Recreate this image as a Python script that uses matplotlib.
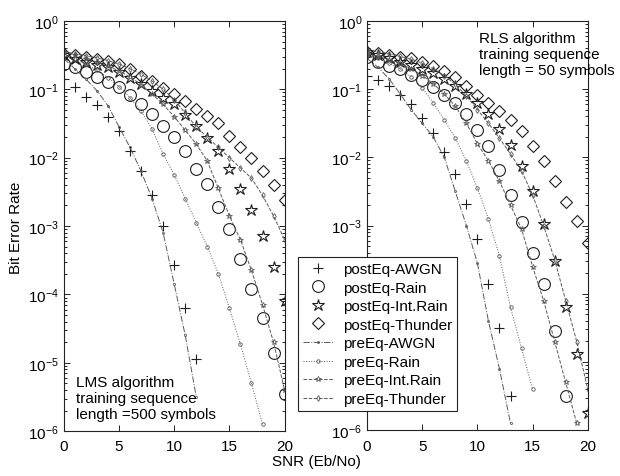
#!/usr/bin/env python3


# +
# import(s)
# -
import numpy as np
import matplotlib
matplotlib.use('Agg')
import matplotlib.pyplot as plt


# +
# constant(s)
# -
nan = np.nan
SNR = list(range(0, 21))
LABELS = ['postEq-AWGN', 'postEq-Rain', 'postEq-Int.Rain', 'postEq-Thunder',
          'preEq-AWGN', 'preEq-Rain', 'preEq-Int.Rain', 'preEq-Thunder']
DECADES = list(range(-6, 1))

# log10(BER)
lms_post_awgn = [-0.85, -0.97, -1.11, -1.23, -1.41, -1.61, -1.90, -2.20, -2.55, -3.00, -3.57, -4.20, -4.95,
                 nan, nan, nan, nan, nan, nan, nan, nan]
lms_post_rain = [-0.63, -0.68, -0.75, -0.82, -0.90, -0.97, -1.09, -1.21, -1.36, -1.53, -1.70, -1.90, -2.17,
                 -2.39, -2.72, -3.05, -3.48, -3.92, -4.35, -4.85, -5.45]
lms_post_intrain = [-0.50, -0.55, -0.60, -0.64, -0.68, -0.75, -0.83, -0.92, -1.02, -1.12, -1.22, -1.37, -1.53,
                    -1.71, -1.90, -2.17, -2.46, -2.77, -3.15, -3.60, -4.10]
lms_post_thunder = [-0.48, -0.50, -0.53, -0.56, -0.59, -0.63, -0.70, -0.80, -0.88, -0.98, -1.07, -1.17, -1.29,
                    -1.39, -1.50, -1.68, -1.85, -2.00, -2.20, -2.40, -2.62]
lms_pre_awgn = [-0.55, -0.70, -0.85, -1.02, -1.24, -1.55, -1.85, -2.20, -2.60, -3.10, -3.85, -4.60, -5.50,
                nan, nan, nan, nan, nan, nan, nan, nan]
lms_pre_rain = [-0.50, -0.56, -0.63, -0.72, -0.83, -0.96, -1.12, -1.32, -1.58, -1.95, -2.25, -2.60, -2.95,
                -3.30, -3.70, -4.20, -4.73, -5.30, -5.90, nan, nan]
lms_pre_intrain = [-0.45, -0.50, -0.55, -0.60, -0.66, -0.73, -0.82, -0.93, -1.07, -1.22, -1.40, -1.60, -1.80,
                   -2.05, -2.45, -2.85, -3.20, -3.65, -4.15, -4.70, -5.40]
lms_pre_thunder = [-0.45, -0.48, -0.51, -0.54, -0.58, -0.63, -0.70, -0.78, -0.88, -1.00, -1.15, -1.35, -1.55,
                   -1.70, -1.85, -2.00, -2.15, -2.30, -2.55, -2.85, -3.20]

# log10(BER)
rls_post_awgn = [-0.80, -0.86, -0.95, -1.08, -1.22, -1.42, -1.65, -1.92, -2.25, -2.68, -3.20, -3.85, -4.50,
                 -5.50, nan, nan, nan, nan, nan, nan, nan]
rls_post_rain = [-0.53, -0.60, -0.66, -0.71, -0.79, -0.87, -0.97, -1.08, -1.20, -1.36, -1.60, -1.83, -2.18,
                 -2.55, -2.95, -3.40, -3.85, -4.55, -5.50, nan, nan]
rls_post_intrain = [-0.45, -0.50, -0.55, -0.60, -0.65, -0.70, -0.76, -0.85, -0.95, -1.07, -1.20, -1.37, -1.58,
                    -1.82, -2.12, -2.50, -2.97, -3.52, -4.20, -4.88, -5.75]
rls_post_thunder = [-0.45, -0.47, -0.50, -0.53, -0.55, -0.60, -0.66, -0.73, -0.82, -0.95, -1.08, -1.20, -1.32,
                    -1.45, -1.62, -1.84, -2.05, -2.35, -2.65, -2.93, -3.25]
rls_pre_awgn = [-0.55, -0.68, -0.85, -1.07, -1.30, -1.50, -1.70, -2.00, -2.50, -3.00, -3.55, -4.40, -5.10,
                -5.90, nan, nan, nan, nan, nan, nan, nan]
rls_pre_rain = [-0.50, -0.55, -0.62, -0.70, -0.82, -0.98, -1.20, -1.45, -1.72, -2.05, -2.45, -2.90, -3.45,
                -4.20, -4.80, -5.40, nan, nan, nan, nan, nan]
rls_pre_intrain = [-0.48, -0.52, -0.57, -0.63, -0.70, -0.80, -0.92, -1.07, -1.25, -1.50, -1.80, -2.05, -2.35,
                   -2.70, -3.05, -3.60, -4.10, -4.70, -5.30, -5.90, nan]
rls_pre_thunder = [-0.42, -0.45, -0.48, -0.52, -0.56, -0.62, -0.70, -0.80, -0.93, -1.10, -1.30, -1.50, -1.72,
                   -1.95, -2.20, -2.55, -3.00, -3.50, -4.10, -4.70, -5.40]

POST_STYLE = [dict(marker='+', ms=7), dict(marker='o', ms=8.5), dict(marker='*', ms=9), dict(marker='D', ms=6.5)]
PRE_STYLE = [dict(marker='.', ms=3, ls='-.'), dict(marker='o', ms=2.5, ls=':'),
             dict(marker='*', ms=4, ls='--'), dict(marker='d', ms=3, ls='--')]
DARK = '#1e1e1e'
GREY = '#5a5a5a'


# +
# function: draw_panel()
# -
def draw_panel(_ax=None, _post=None, _pre=None, _hidden=()):
    _x = np.array(SNR, dtype=float)
    _handles = []
    for _y, _s in zip(_post, POST_STYLE):
        _h, = _ax.semilogy(_x, 10.0 ** np.array(_y), ls='none', color=DARK, mfc='none', mew=0.8, **_s)
        _handles.append(_h)
    for _y, _s in zip(_pre, PRE_STYLE):
        _h, = _ax.semilogy(_x, 10.0 ** np.array(_y), color=GREY, lw=0.7, mfc='none', mew=0.6, **_s)
        _handles.append(_h)
    _ax.set_xlim(0, 20)
    _ax.set_ylim(1e-6, 1)
    _ax.set_xticks([0, 5, 10, 15, 20])
    _ax.set_yticks([10.0 ** _k for _k in DECADES])
    # labels that sit behind the legend in the original are left blank
    _ax.set_yticklabels(['' if _k in _hidden else r'$\mathdefault{10^{%d}}$' % _k for _k in DECADES])
    _ax.tick_params(which='both', direction='in', top=True, right=True, labelsize=11, width=0.6)
    _ax.tick_params(which='major', length=4)
    _ax.tick_params(which='minor', length=2)
    _ax.tick_params(axis='x', pad=6)
    for _sp in _ax.spines.values():
        _sp.set_linewidth(0.8)
        _sp.set_color('#222222')
    return _handles


# +
# main()
# -
if __name__ == '__main__':

    plt.rcParams['font.family'] = ['Liberation Sans', 'DejaVu Sans']
    plt.rcParams['mathtext.fontset'] = 'custom'
    plt.rcParams['mathtext.rm'] = 'Liberation Sans'

    fig = plt.figure(figsize=(6.2, 4.77), dpi=100)
    ax1 = fig.add_axes([0.103, 0.094, 0.356, 0.860])
    ax2 = fig.add_axes([0.592, 0.096, 0.356, 0.858])

    handles = draw_panel(ax1, [lms_post_awgn, lms_post_rain, lms_post_intrain, lms_post_thunder],
                         [lms_pre_awgn, lms_pre_rain, lms_pre_intrain, lms_pre_thunder])
    draw_panel(ax2, [rls_post_awgn, rls_post_rain, rls_post_intrain, rls_post_thunder],
               [rls_pre_awgn, rls_pre_rain, rls_pre_intrain, rls_pre_thunder], _hidden=(-5, -4))

    ax1.text(0.054, 0.025, 'LMS algorithm\ntraining sequence\nlength =500 symbols',
             transform=ax1.transAxes, fontsize=11, va='bottom', ha='left', linespacing=1.18)
    ax2.text(0.507, 0.975, 'RLS algorithm\ntraining sequence\nlength = 50 symbols',
             transform=ax2.transAxes, fontsize=11, va='top', ha='left', linespacing=1.18, clip_on=False)

    fig.text(16 / 620, 1 - 228 / 477, 'Bit Error Rate', rotation=90, fontsize=11, ha='center', va='center')
    fig.text(316 / 620, 1 - 462 / 477, 'SNR (Eb/No)', fontsize=11, ha='center', va='center')

    leg = fig.legend(handles, LABELS, loc='center', bbox_to_anchor=(377.5 / 620, 1 - 335 / 477),
                     fontsize=11, fancybox=False, framealpha=1, edgecolor='#222222',
                     handlelength=2.0, handletextpad=0.6, labelspacing=0.3, borderpad=0.35)
    leg.get_frame().set_linewidth(0.8)

    fig.savefig('out.png', dpi=100)
